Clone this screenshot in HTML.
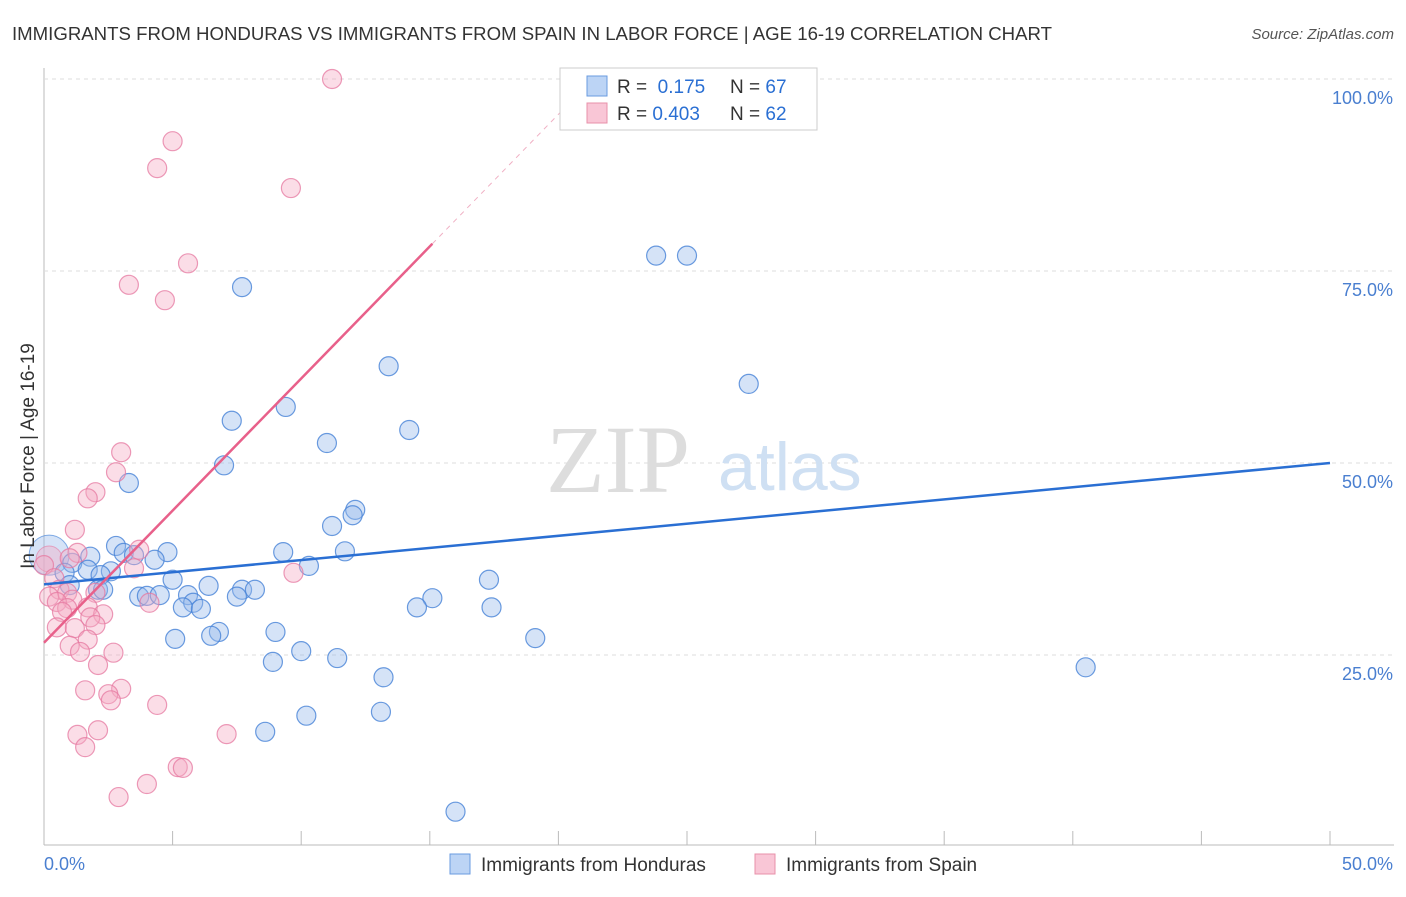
<!DOCTYPE html>
<html><head><meta charset="utf-8"><style>
body{margin:0;background:#fff;font-family:"Liberation Sans",sans-serif}
</style></head><body>
<svg width="1406" height="892" xmlns="http://www.w3.org/2000/svg" font-family="Liberation Sans, sans-serif">
<text x="12" y="40" font-size="18" fill="#333" textLength="1040" lengthAdjust="spacingAndGlyphs">IMMIGRANTS FROM HONDURAS VS IMMIGRANTS FROM SPAIN IN LABOR FORCE | AGE 16-19 CORRELATION CHART</text>
<text x="1394" y="39" font-size="15" fill="#555" font-style="italic" text-anchor="end">Source: ZipAtlas.com</text>
<g id="grid"></g>
<text x="690" y="492" font-size="96" fill="#ddd" text-anchor="end" font-family="Liberation Serif, serif">ZIP</text>
<text x="718" y="490" font-size="68" fill="#cfe0f3">atlas</text>
<g id="pts"></g>
<g id="lines"></g>
<text transform="translate(34,456) rotate(-90)" font-size="19" fill="#333" text-anchor="middle">In Labor Force | Age 16-19</text>
<g>
<rect x="560" y="68" width="257" height="62" fill="#fff" stroke="#ccc"/>
<rect x="587" y="76" width="20" height="20" fill="#bcd4f5" stroke="#6a9be0"/>
<rect x="587" y="103" width="20" height="20" fill="#f9c6d6" stroke="#e890aa"/>
<text x="617" y="93" font-size="19" fill="#333">R = <tspan fill="#2a6fd3">&#160;0.175</tspan><tspan x="730">N = </tspan><tspan fill="#2a6fd3">67</tspan></text>
<text x="617" y="120" font-size="19" fill="#333">R = <tspan fill="#2a6fd3">0.403</tspan><tspan x="730">N = </tspan><tspan fill="#2a6fd3">62</tspan></text>
</g>
<g>
<rect x="450" y="854" width="20" height="20" fill="#bcd4f5" stroke="#6a9be0"/>
<text x="481" y="871" font-size="19" fill="#333">Immigrants from Honduras</text>
<rect x="755" y="854" width="20" height="20" fill="#f9c6d6" stroke="#e890aa"/>
<text x="786" y="871" font-size="19" fill="#333">Immigrants from Spain</text>
</g>
</svg>
<script>
const xTicks=[0,5,10,15,20,25,30,35,40,45,50];
const yTicks=[25,50,75,100];
const yTickLabels=["25.0%","50.0%","75.0%","100.0%"];
const blueX=[7.7,23.8,25.0,27.4,13.4,9.4,7.3,14.2,11.0,7.0,3.3,12.1,12.0,11.2,2.8,11.7,9.3,4.8,3.1,3.5,4.3,1.8,1.1,10.3,2.6,0.8,1.7,2.2,5.0,17.3,6.4,2.1,7.7,8.2,2.3,1.0,3.7,4.0,4.5,5.6,7.5,15.1,5.8,5.4,6.1,14.5,17.4,6.8,6.5,9.0,5.1,19.1,10.0,8.9,11.4,13.2,40.5,10.2,13.1,8.6,16.0];
const blueY=[72.9,77.0,77.0,60.3,62.6,57.3,55.5,54.3,52.6,49.7,47.4,43.9,43.2,41.8,39.2,38.5,38.4,38.4,38.3,38.0,37.4,37.8,37.0,36.6,35.9,35.7,36.1,35.4,34.8,34.8,34.0,33.5,33.5,33.5,33.5,34.1,32.6,32.7,32.8,32.8,32.6,32.4,31.8,31.2,31.0,31.2,31.2,28.0,27.5,28.0,27.1,27.2,25.5,24.1,24.6,22.1,23.4,17.1,17.6,15.0,4.6];
const pinkX=[11.2,5.0,4.4,9.6,5.6,3.3,4.7,3.0,2.8,2.0,1.7,1.2,3.7,1.3,1.0,0,3.5,9.7,0.4,0.6,0.9,2.0,0.2,1.1,0.5,4.1,0.9,1.7,0.7,2.3,1.8,2.0,0.5,1.2,1.7,1.0,1.4,2.7,2.1,1.6,3.0,2.5,2.6,4.4,1.3,2.1,1.6,7.1,5.2,5.4,4.0,2.9];
const pinkY=[100,91.9,88.4,85.8,76.0,73.2,71.2,51.4,48.8,46.2,45.4,41.3,38.7,38.3,37.6,36.7,36.3,35.7,35.0,33.5,33.1,33.1,32.6,32.2,31.9,31.8,31.1,31.2,30.6,30.3,29.9,28.9,28.6,28.5,27.0,26.2,25.4,25.3,23.7,20.4,20.6,19.9,19.1,18.5,14.6,15.2,13.0,14.7,10.4,10.3,8.2,6.5];
const blueTrend=[34.2,50.0];
const pinkTrend=[26.6,3.44];
const NS="http://www.w3.org/2000/svg";
const X=v=>44+v/50*1286, Y=v=>847-v/100*768;
function mk(t,a,p){const e=document.createElementNS(NS,t);for(const k in a)e.setAttribute(k,a[k]);p.appendChild(e);return e;}
const g=document.getElementById('grid');
mk('line',{x1:44,y1:68,x2:44,y2:845,stroke:'#bbb'},g);
mk('line',{x1:44,y1:845,x2:1394,y2:845,stroke:'#bbb'},g);
yTicks.forEach((t,i)=>{
 const l=mk('line',{x1:44,y1:Y(t),x2:1394,y2:Y(t),stroke:'#ddd','stroke-dasharray':'4,4'},g);
 
 
 const tx=mk('text',{x:1393,y:Y(t)+25,'font-size':18,fill:'#4a7fd0','text-anchor':'end'},g);
 tx.textContent=yTickLabels[i];
 
 
});
xTicks.forEach(t=>{
 const l=mk('line',{x1:X(t),y1:831,x2:X(t),y2:845,stroke:'#bbb'},g);
 
 
});
[[0,"0.0%","start",44],[50,"50.0%","end",1393]].forEach(a=>{
 const tx=mk('text',{x:a[3],y:870,'font-size':18,fill:'#4a7fd0','text-anchor':a[2]},g);
 tx.textContent=a[1];
 
 
});
const p=document.getElementById('pts');
const big=mk('circle',{cx:X(0.2),cy:Y(38),r:20,fill:'rgba(150,185,235,0.4)',stroke:'rgba(80,140,220,0.7)'},p);


blueX.forEach((x,i)=>{const c=mk('circle',{cx:X(x),cy:Y(blueY[i]),r:9.5,fill:'rgba(150,185,235,0.4)',stroke:'rgba(70,130,215,0.8)','stroke-width':1.2},p);
 
 });
const bigp=mk('circle',{cx:X(0.2),cy:Y(37.5),r:13,fill:'rgba(245,170,195,0.4)',stroke:'rgba(230,120,160,0.6)'},p);


pinkX.forEach((x,i)=>{const c=mk('circle',{cx:X(x),cy:Y(pinkY[i]),r:9.5,fill:'rgba(245,170,195,0.4)',stroke:'rgba(230,120,160,0.75)','stroke-width':1.2},p);
 
 });
const L=document.getElementById('lines');
const bl=mk('line',{x1:X(0),y1:Y(blueTrend[0]),x2:X(50),y2:Y(blueTrend[1]),stroke:'#2a6fd3','stroke-width':2.5},L);


const pe=15.1, pd=(100-pinkTrend[0])/pinkTrend[1];
const pl=mk('line',{x1:X(0),y1:Y(pinkTrend[0]),x2:X(pe),y2:Y(pinkTrend[0]+pinkTrend[1]*pe),stroke:'#e8608a','stroke-width':2.5},L);


const pdl=mk('line',{x1:X(pe),y1:Y(pinkTrend[0]+pinkTrend[1]*pe),x2:X(pd),y2:Y(100),stroke:'#f0b0c4','stroke-width':1,'stroke-dasharray':'5,5'},L);


</script>
</body></html>
